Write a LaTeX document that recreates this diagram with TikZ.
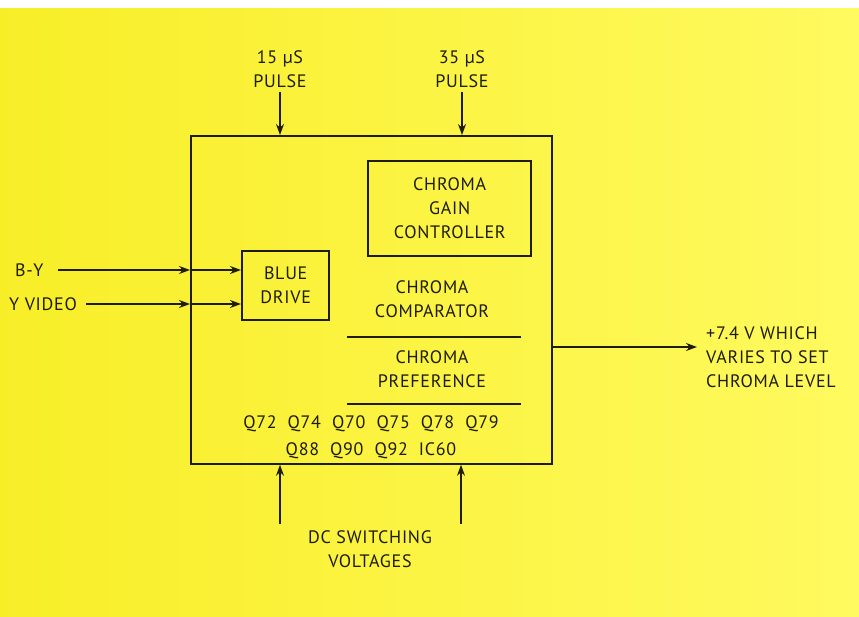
\documentclass[tikz,border=0pt]{standalone}
\usepackage{fontspec}
\setmainfont[LetterSpace=4]{PT Sans}
\usetikzlibrary{arrows.meta}
\definecolor{bgleft}{RGB}{248,238,40}
\definecolor{bgright}{RGB}{255,250,95}
\definecolor{ink}{RGB}{30,28,10}
\tikzset{
  lbl/.style={font=\fontsize{18}{24}\selectfont, text=ink, align=center, inner sep=0pt},
  blk/.style={draw=ink, anchor=north west, inner sep=0pt},
  arr/.style={draw=ink, line width=1.2pt, -{Stealth[length=11pt,width=8pt]}},
  sep/.style={draw=ink, line width=1.2pt}
}
\begin{document}
\begin{tikzpicture}[x=1pt,y=-1pt]
\useasboundingbox (0,0) rectangle (859,617);
\shade[left color=bgleft, right color=bgright] (0,0) rectangle (859,617);
\fill[white] (0,0) rectangle (859,8);
% blocks
\node[blk, line width=1.8pt, minimum width=361pt, minimum height=328pt] (main) at (190,135) {};
\node[blk, line width=2.4pt, minimum width=163pt, minimum height=95pt] (gain) at (367,160) {};
\node[lbl] at (gain.center) {CHROMA\\GAIN\\CONTROLLER};
\node[blk, line width=2.4pt, minimum width=87pt, minimum height=69pt] (blue) at (241,250) {};
\node[lbl] at (blue.center) {BLUE\\DRIVE};
\node[lbl] (comp) at (432,299) {CHROMA\\COMPARATOR};
\node[lbl] (pref) at (432,369) {CHROMA\\PREFERENCE};
\draw[sep] (347,337) -- (521,337);
\draw[sep] (347,404) -- (521,404);
\node[lbl, font=\fontsize{18}{27}\selectfont] (parts) at (371,437) {Q72\ \ Q74\ \ Q70\ \ Q75\ \ Q78\ \ Q79\\Q88\ \ Q90\ \ Q92\ \ IC60};
% top inputs
\node[lbl] (p15) at (280,69) {15 µS\\PULSE};
\node[lbl] (p35) at (462,69) {35 µS\\PULSE};
\coordinate (t15) at (280,92);
\coordinate (t35) at (462,92);
\draw[arr] (t15) -- (t15 |- main.north);
\draw[arr] (t35) -- (t35 |- main.north);
% left inputs
\node[lbl, anchor=west] (by) at (15,270) {B-Y};
\node[lbl, anchor=west] (yv) at (9,304) {Y VIDEO};
\coordinate (byin) at (58,270);
\coordinate (yvin) at (86,304);
\coordinate (bye) at (main.west |- byin);
\coordinate (yve) at (main.west |- yvin);
\draw[arr] (byin) -- (bye);
\draw[arr] (yvin) -- (yve);
\draw[arr] (bye) -- (blue.west |- byin);
\draw[arr] (yve) -- (blue.west |- yvin);
% output
\coordinate (oute) at (main.east |- 0,347);
\coordinate (outt) at (697,347);
\draw[arr] (oute) -- (outt);
\node[lbl, anchor=west, align=left] (outl) at (706,357) {+7.4 V WHICH\\VARIES TO SET\\CHROMA LEVEL};
% bottom inputs
\coordinate (b1) at (280,524);
\coordinate (b2) at (461,524);
\draw[arr] (b1) -- (b1 |- main.south);
\draw[arr] (b2) -- (b2 |- main.south);
\node[lbl] (dc) at (370,549) {DC SWITCHING\\VOLTAGES};
\end{tikzpicture}
\end{document}
